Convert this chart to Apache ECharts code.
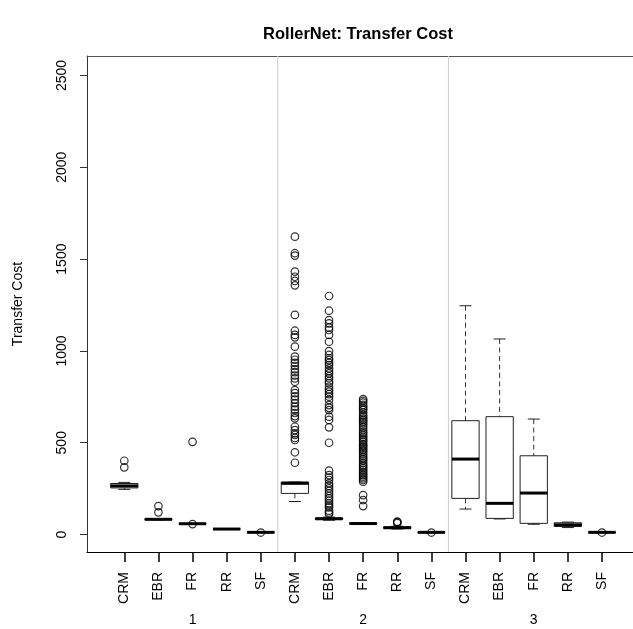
<!DOCTYPE html>
<html>
<head>
<meta charset="utf-8">
<script src="https://cdn.jsdelivr.net/npm/echarts@6/dist/echarts.min.js"></script>
<style>
html,body{margin:0;padding:0;background:#fff;}
#chart{width:633px;height:629px;}
</style>
</head>
<body>
<div id="chart"></div>
<script>
// ---------- DATA ----------
const chartTitle = 'RollerNet: Transfer Cost';
const yAxisTitle = 'Transfer Cost';
const groupLabels = ['1', '2', '3'];
const methods = ['CRM', 'EBR', 'FR', 'RR', 'SF'];
const yTicks = [0, 500, 1000, 1500, 2000, 2500];

// box statistics, order: group 1 (CRM..SF), group 2 (CRM..SF), group 3 (CRM..SF)
const whiskerLow    = [246, 80, 58, 28, 11, 180, 78, 55, 30, 10, 139,   85,  56, 38, 10];
const lowerQuartile = [254, 81, 59, 29, 12, 224, 82, 58, 33, 11, 197,   88,  61, 44, 11];
const medianValue   = [265, 83, 59, 30, 12, 279, 86, 60, 37, 12, 411,  170, 226, 53, 12];
const upperQuartile = [278, 85, 60, 31, 13, 286, 90, 62, 42, 13, 620,  642, 429, 64, 13];
const whiskerHigh   = [284, 87, 61, 32, 13, 286, 95, 64, 45, 14, 1246, 1065, 629, 68, 14];

// outliers per box
const out1CRM = [366, 402];
const out1EBR = [121, 155];
const out1FR  = [57, 505];
const out1RR  = [];
const out1SF  = [11];
const out2CRM = [1622, 1532, 1519, 1432, 1404, 1381, 1357, 1196, 1110, 1087, 1074, 1023,
                 969, 952, 935, 918, 900, 884, 866, 850, 832,
                 787, 770, 752, 735, 716, 697, 680, 662, 645, 633,
                 587, 569, 551, 542, 526, 515, 448, 391];
const out2EBR = [1299, 1219, 1168, 1150, 1128, 1114, 1087, 1050, 999, 978, 960, 950, 935, 923,
                 905, 890, 878, 862, 851, 835, 824, 805, 790, 778, 765, 751, 733, 705, 690, 678,
                 642, 624, 584, 500, 348, 324, 310, 297, 279, 265, 252, 238, 224, 210, 197, 184,
                 170, 158, 148, 130, 120, 112];
const out2FR  = [738, 728, 718, 706, 696, 686, 678, 664, 652, 642, 632, 624, 615, 606, 595, 584,
                 572, 560, 551, 542, 532, 523, 514, 505, 493, 486, 478, 469, 460, 451, 442, 431,
                 420, 411, 402, 390, 379, 370, 361, 352, 342, 333, 324, 315, 306, 297, 288,
                 215, 188, 155];
const out2RR  = [62, 68, 70];
const out2SF  = [11];
const out3CRM = [];
const out3EBR = [];
const out3FR  = [];
const out3RR  = [];
const out3SF  = [11];
const outliers = [out1CRM, out1EBR, out1FR, out1RR, out1SF,
                  out2CRM, out2EBR, out2FR, out2RR, out2SF,
                  out3CRM, out3EBR, out3FR, out3RR, out3SF];
const groupSeparators = [5.5, 10.5];

// ---------- BUILD ----------
const Y_MIN = -95, Y_MAX = 2606;
const X_MIN = -0.093, X_MAX = 15.909;
const FONT = '"Liberation Sans", Arial, Helvetica, sans-serif';

const positions = [];
for (let g = 0; g < groupLabels.length; g++) {
  for (let m = 0; m < methods.length; m++) positions.push(g * methods.length + m + 1);
}
const boxData = positions.map((p, i) => [p, whiskerLow[i], lowerQuartile[i], medianValue[i], upperQuartile[i], whiskerHigh[i]]);
const outlierData = [];
outliers.forEach((arr, i) => arr.forEach(v => outlierData.push([positions[i], v])));
const groupCenters = groupLabels.map((g, i) => i * methods.length + 3);
const groupSpans = groupLabels.map((g, i) => [positions[i * methods.length], positions[i * methods.length + methods.length - 1]]);

function renderBox(params, api) {
  const x = api.value(0);
  const lo = api.coord([x, api.value(1)]);
  const q1 = api.coord([x, api.value(2)]);
  const md = api.coord([x, api.value(3)]);
  const q3 = api.coord([x, api.value(4)]);
  const hi = api.coord([x, api.value(5)]);
  const bw = api.size([0.8, 0])[0];
  const cw = bw * 0.22;
  const cx = lo[0];
  const dash = {stroke: '#333', lineWidth: 1, lineDash: [5, 3.5], fill: null};
  const solid = {stroke: '#222', lineWidth: 1, fill: null};
  return {
    type: 'group',
    children: [
      {type: 'line', shape: {x1: cx, y1: hi[1], x2: cx, y2: q3[1]}, style: dash},
      {type: 'line', shape: {x1: cx, y1: q1[1], x2: cx, y2: lo[1]}, style: dash},
      {type: 'line', shape: {x1: cx - cw, y1: hi[1], x2: cx + cw, y2: hi[1]}, style: solid},
      {type: 'line', shape: {x1: cx - cw, y1: lo[1], x2: cx + cw, y2: lo[1]}, style: solid},
      {type: 'rect', shape: {x: cx - bw / 2, y: q3[1], width: bw, height: q1[1] - q3[1]}, style: solid},
      {type: 'line', shape: {x1: cx - bw / 2, y1: md[1], x2: cx + bw / 2, y2: md[1]}, style: {stroke: '#000', lineWidth: 3}}
    ]
  };
}

function renderSep(params, api) {
  const x = api.value(0);
  const a = api.coord([x, Y_MAX]);
  const b = api.coord([x, Y_MIN]);
  return {type: 'line', shape: {x1: a[0], y1: a[1], x2: b[0], y2: b[1]}, style: {stroke: '#cfcfcf', lineWidth: 1}};
}

function renderSpan(params, api) {
  const a = api.coord([api.value(0), Y_MIN]);
  const b = api.coord([api.value(1), Y_MIN]);
  return {type: 'line', shape: {x1: a[0], y1: a[1] + 0.5, x2: b[0], y2: b[1] + 0.5}, style: {stroke: '#000', lineWidth: 1.2}};
}

const chart = echarts.init(document.getElementById('chart'), null, {renderer: 'canvas'});
chart.setOption({
  backgroundColor: '#fff',
  animation: false,
  title: {
    text: chartTitle, left: 353, top: 21, textAlign: 'center',
    textStyle: {fontFamily: FONT, fontSize: 16.5, fontWeight: 'bold', color: '#000'}
  },
  grid: {left: 87, right: 0, top: 56, bottom: 77, containLabel: false},
  xAxis: [
    {
      type: 'value', min: X_MIN, max: X_MAX, position: 'bottom',
      splitLine: {show: false},
      axisLine: {show: true, onZero: false, lineStyle: {color: '#000', width: 1}},
      axisTick: {show: true, customValues: positions, length: 10, lineStyle: {color: '#000', width: 1.5}},
      axisLabel: {
        customValues: positions, rotate: 90, margin: 20,
        fontFamily: FONT, fontSize: 14, color: '#000',
        formatter: v => methods[(Math.round(v) - 1) % methods.length]
      }
    },
    {
      type: 'value', min: X_MIN, max: X_MAX, position: 'bottom', offset: 0,
      splitLine: {show: false}, axisLine: {show: false, onZero: false}, axisTick: {show: false},
      axisLabel: {
        customValues: groupCenters, margin: 61,
        fontFamily: FONT, fontSize: 14, color: '#000',
        formatter: v => groupLabels[Math.round((v - 3) / methods.length)]
      }
    },
    {
      type: 'value', min: X_MIN, max: X_MAX, position: 'top',
      splitLine: {show: false}, axisTick: {show: false}, axisLabel: {show: false},
      axisLine: {show: true, onZero: false, lineStyle: {color: '#555', width: 1}}
    }
  ],
  yAxis: {
    type: 'value', min: Y_MIN, max: Y_MAX,
    name: yAxisTitle, nameLocation: 'middle', nameRotate: 90, nameGap: 62,
    nameTextStyle: {fontFamily: FONT, fontSize: 14, color: '#000'},
    splitLine: {show: false},
    axisLine: {show: true, onZero: false, lineStyle: {color: '#333', width: 1}},
    axisTick: {show: true, customValues: yTicks, length: 7, lineStyle: {color: '#333'}},
    axisLabel: {
      customValues: yTicks, rotate: 90, margin: 18,
      fontFamily: FONT, fontSize: 14, color: '#000',
      formatter: v => String(v)
    }
  },
  series: [
    {type: 'custom', renderItem: renderSep, data: groupSeparators.map(v => [v]), encode: {x: 0}, silent: true, z: 1},
    {type: 'custom', renderItem: renderSpan, data: groupSpans, encode: {x: [0, 1]}, silent: true, clip: false, z: 4},
    {type: 'custom', renderItem: renderBox, data: boxData, encode: {x: 0, y: [1, 2, 3, 4, 5]}, silent: true, z: 2},
    {
      type: 'scatter', data: outlierData, symbol: 'circle', symbolSize: 7.5, silent: true, z: 3,
      itemStyle: {color: 'rgba(0,0,0,0)', borderColor: '#000', borderWidth: 1.2}
    }
  ]
});
</script>
</body>
</html>
